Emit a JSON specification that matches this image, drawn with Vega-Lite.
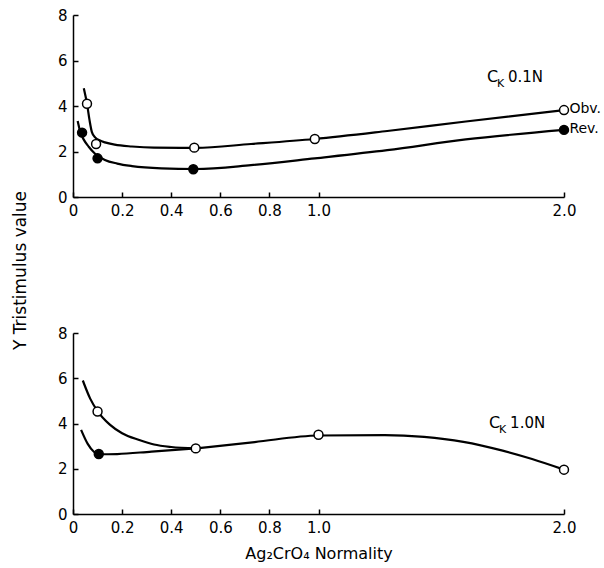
{
  "$schema": "https://vega.github.io/schema/vega-lite/v6.json",
  "background": "white",
  "bounds": "flush",
  "spacing": 136,
  "padding": {"left": 11, "top": 8, "right": 5, "bottom": 5},
  "config": {
    "view": {"stroke": null},
    "font": "DejaVu Sans",
    "axis": {
      "grid": false,
      "domainColor": "black",
      "domainWidth": 1.5,
      "tickColor": "black",
      "tickWidth": 1.5,
      "tickSize": -5,
      "labelPadding": 11,
      "labelColor": "black",
      "labelFont": "DejaVu Sans",
      "labelFontSize": 15,
      "labelOverlap": false,
      "titleColor": "black",
      "titleFont": "DejaVu Sans",
      "titleFontWeight": "normal",
      "titleFontSize": 16
    }
  },
  "datasets": {
    "curves": [
      {"panel": "top", "series": "Obv.", "x": 0.044, "y": 4.78},
      {"panel": "top", "series": "Obv.", "x": 0.057, "y": 4.1},
      {"panel": "top", "series": "Obv.", "x": 0.067, "y": 3.4},
      {"panel": "top", "series": "Obv.", "x": 0.077, "y": 2.85},
      {"panel": "top", "series": "Obv.", "x": 0.09, "y": 2.62},
      {"panel": "top", "series": "Obv.", "x": 0.11, "y": 2.48},
      {"panel": "top", "series": "Obv.", "x": 0.13, "y": 2.4},
      {"panel": "top", "series": "Obv.", "x": 0.17, "y": 2.3},
      {"panel": "top", "series": "Obv.", "x": 0.24, "y": 2.22},
      {"panel": "top", "series": "Obv.", "x": 0.33, "y": 2.17},
      {"panel": "top", "series": "Obv.", "x": 0.5, "y": 2.16},
      {"panel": "top", "series": "Obv.", "x": 0.725, "y": 2.33},
      {"panel": "top", "series": "Obv.", "x": 0.985, "y": 2.55},
      {"panel": "top", "series": "Obv.", "x": 1.28, "y": 2.9},
      {"panel": "top", "series": "Obv.", "x": 1.6, "y": 3.32},
      {"panel": "top", "series": "Obv.", "x": 2.0, "y": 3.82},
      {"panel": "top", "series": "Rev.", "x": 0.019, "y": 3.34},
      {"panel": "top", "series": "Rev.", "x": 0.03, "y": 2.85},
      {"panel": "top", "series": "Rev.", "x": 0.045, "y": 2.5},
      {"panel": "top", "series": "Rev.", "x": 0.064, "y": 2.21},
      {"panel": "top", "series": "Rev.", "x": 0.09, "y": 1.9},
      {"panel": "top", "series": "Rev.", "x": 0.13, "y": 1.63},
      {"panel": "top", "series": "Rev.", "x": 0.18, "y": 1.47},
      {"panel": "top", "series": "Rev.", "x": 0.24, "y": 1.36},
      {"panel": "top", "series": "Rev.", "x": 0.36, "y": 1.26},
      {"panel": "top", "series": "Rev.", "x": 0.5, "y": 1.23},
      {"panel": "top", "series": "Rev.", "x": 0.725, "y": 1.4},
      {"panel": "top", "series": "Rev.", "x": 0.985, "y": 1.7},
      {"panel": "top", "series": "Rev.", "x": 1.28, "y": 2.06},
      {"panel": "top", "series": "Rev.", "x": 1.6, "y": 2.53},
      {"panel": "top", "series": "Rev.", "x": 2.0, "y": 2.95},
      {"panel": "bottom", "series": "Obv.", "x": 0.04, "y": 5.9},
      {"panel": "bottom", "series": "Obv.", "x": 0.07, "y": 5.1},
      {"panel": "bottom", "series": "Obv.", "x": 0.1, "y": 4.55},
      {"panel": "bottom", "series": "Obv.", "x": 0.15, "y": 3.95},
      {"panel": "bottom", "series": "Obv.", "x": 0.2, "y": 3.57},
      {"panel": "bottom", "series": "Obv.", "x": 0.27, "y": 3.27},
      {"panel": "bottom", "series": "Obv.", "x": 0.33, "y": 3.07},
      {"panel": "bottom", "series": "Obv.", "x": 0.4, "y": 2.96},
      {"panel": "bottom", "series": "Obv.", "x": 0.5, "y": 2.9},
      {"panel": "bottom", "series": "Both", "x": 0.5, "y": 2.9},
      {"panel": "bottom", "series": "Both", "x": 0.74, "y": 3.18},
      {"panel": "bottom", "series": "Both", "x": 1.0, "y": 3.47},
      {"panel": "bottom", "series": "Both", "x": 1.27, "y": 3.49},
      {"panel": "bottom", "series": "Both", "x": 1.43, "y": 3.41},
      {"panel": "bottom", "series": "Both", "x": 1.59, "y": 3.19},
      {"panel": "bottom", "series": "Both", "x": 1.75, "y": 2.8},
      {"panel": "bottom", "series": "Both", "x": 1.87, "y": 2.43},
      {"panel": "bottom", "series": "Both", "x": 2.0, "y": 1.96},
      {"panel": "bottom", "series": "Rev.", "x": 0.033, "y": 3.72},
      {"panel": "bottom", "series": "Rev.", "x": 0.06, "y": 3.1},
      {"panel": "bottom", "series": "Rev.", "x": 0.085, "y": 2.75},
      {"panel": "bottom", "series": "Rev.", "x": 0.105, "y": 2.64},
      {"panel": "bottom", "series": "Rev.", "x": 0.18, "y": 2.65},
      {"panel": "bottom", "series": "Rev.", "x": 0.32, "y": 2.76},
      {"panel": "bottom", "series": "Rev.", "x": 0.5, "y": 2.9}
    ],
    "points": [
      {"panel": "top", "series": "Obv.", "x": 0.057, "y": 4.1},
      {"panel": "top", "series": "Obv.", "x": 0.094, "y": 2.33},
      {"panel": "top", "series": "Obv.", "x": 0.494, "y": 2.17},
      {"panel": "top", "series": "Obv.", "x": 0.985, "y": 2.55},
      {"panel": "top", "series": "Obv.", "x": 2.0, "y": 3.82},
      {"panel": "top", "series": "Rev.", "x": 0.037, "y": 2.83},
      {"panel": "top", "series": "Rev.", "x": 0.1, "y": 1.7},
      {"panel": "top", "series": "Rev.", "x": 0.49, "y": 1.22},
      {"panel": "top", "series": "Rev.", "x": 2.0, "y": 2.95},
      {"panel": "bottom", "series": "Obv.", "x": 0.1, "y": 4.53},
      {"panel": "bottom", "series": "Obv.", "x": 0.5, "y": 2.9},
      {"panel": "bottom", "series": "Obv.", "x": 1.0, "y": 3.5},
      {"panel": "bottom", "series": "Obv.", "x": 2.0, "y": 1.96},
      {"panel": "bottom", "series": "Rev.", "x": 0.105, "y": 2.65}
    ]
  },
  "vconcat": [
    {
      "width": 491,
      "height": 182,
      "layer": [
        {
          "data": {"name": "curves"},
          "transform": [{"filter": "datum.panel == 'top'"}],
          "mark": {"type": "line", "interpolate": "monotone", "color": "black", "strokeWidth": 2.2},
          "encoding": {
            "x": {"field": "x", "type": "quantitative", "scale": {"domain": [0, 2]}, "title": null,
                  "axis": {"values": [0, 0.2, 0.4, 0.6, 0.8, 1, 2], "labelExpr": "datum.value == 0 ? '0' : format(datum.value, '.1f')", "labelFlush": false}},
            "y": {"field": "y", "type": "quantitative", "scale": {"domain": [0, 8]}, "title": "Y  Tristimulus  value",
                  "axis": {"values": [0, 2, 4, 6, 8], "labelFlush": false, "titleY": 255, "titlePadding": 28, "titleFontSize": 17}},
            "detail": {"field": "series"}
          }
        },
        {
          "data": {"name": "points"},
          "transform": [{"filter": "datum.panel == 'top'"}],
          "mark": {"type": "point", "shape": "circle", "size": 80, "stroke": "black", "strokeWidth": 1.5, "opacity": 1},
          "encoding": {
            "x": {"field": "x", "type": "quantitative", "title": null},
            "y": {"field": "y", "type": "quantitative", "title": "Y  Tristimulus  value"},
            "fill": {"field": "series", "type": "nominal", "scale": {"domain": ["Obv.", "Rev."], "range": ["white", "black"]}, "legend": null}
          }
        },
        {
          "data": {"values": [{}]},
          "mark": {"type": "text", "text": "C", "align": "left", "baseline": "middle", "fontSize": 16, "color": "black"},
          "encoding": {"x": {"datum": 1.686, "type": "quantitative", "title": null}, "y": {"datum": 5.29, "type": "quantitative", "title": "Y  Tristimulus  value"}}
        },
        {
          "data": {"values": [{}]},
          "mark": {"type": "text", "text": "K", "align": "left", "baseline": "middle", "fontSize": 11, "dx": 10, "dy": 7, "color": "black"},
          "encoding": {"x": {"datum": 1.686, "type": "quantitative", "title": null}, "y": {"datum": 5.29, "type": "quantitative", "title": "Y  Tristimulus  value"}}
        },
        {
          "data": {"values": [{}]},
          "mark": {"type": "text", "text": "0.1N", "align": "left", "baseline": "middle", "fontSize": 15, "dx": 21, "color": "black"},
          "encoding": {"x": {"datum": 1.686, "type": "quantitative", "title": null}, "y": {"datum": 5.29, "type": "quantitative", "title": "Y  Tristimulus  value"}}
        },
        {
          "data": {"values": [{}]},
          "mark": {"type": "text", "text": "Obv.", "align": "left", "baseline": "middle", "fontSize": 14, "color": "black"},
          "encoding": {"x": {"datum": 2.022, "type": "quantitative", "title": null}, "y": {"datum": 3.85, "type": "quantitative", "title": "Y  Tristimulus  value"}}
        },
        {
          "data": {"values": [{}]},
          "mark": {"type": "text", "text": "Rev.", "align": "left", "baseline": "middle", "fontSize": 14, "color": "black"},
          "encoding": {"x": {"datum": 2.022, "type": "quantitative", "title": null}, "y": {"datum": 2.98, "type": "quantitative", "title": "Y  Tristimulus  value"}}
        }
      ]
    },
    {
      "width": 491,
      "height": 181,
      "layer": [
        {
          "data": {"name": "curves"},
          "transform": [{"filter": "datum.panel == 'bottom'"}],
          "mark": {"type": "line", "interpolate": "monotone", "color": "black", "strokeWidth": 2.2},
          "encoding": {
            "x": {"field": "x", "type": "quantitative", "scale": {"domain": [0, 2]}, "title": "Ag₂CrO₄  Normality",
                  "axis": {"values": [0, 0.2, 0.4, 0.6, 0.8, 1, 2], "labelExpr": "datum.value == 0 ? '0' : format(datum.value, '.1f')", "labelFlush": false, "titleFontSize": 16, "titlePadding": 10}},
            "y": {"field": "y", "type": "quantitative", "scale": {"domain": [0, 8]}, "title": null,
                  "axis": {"values": [0, 2, 4, 6, 8], "labelFlush": false}},
            "detail": {"field": "series"}
          }
        },
        {
          "data": {"name": "points"},
          "transform": [{"filter": "datum.panel == 'bottom'"}],
          "mark": {"type": "point", "shape": "circle", "size": 80, "stroke": "black", "strokeWidth": 1.5, "opacity": 1},
          "encoding": {
            "x": {"field": "x", "type": "quantitative", "title": "Ag₂CrO₄  Normality"},
            "y": {"field": "y", "type": "quantitative", "title": null},
            "fill": {"field": "series", "type": "nominal", "scale": {"domain": ["Obv.", "Rev."], "range": ["white", "black"]}, "legend": null}
          }
        },
        {
          "data": {"values": [{}]},
          "mark": {"type": "text", "text": "C", "align": "left", "baseline": "middle", "fontSize": 16, "color": "black"},
          "encoding": {"x": {"datum": 1.695, "type": "quantitative", "title": "Ag₂CrO₄  Normality"}, "y": {"datum": 4.03, "type": "quantitative", "title": null}}
        },
        {
          "data": {"values": [{}]},
          "mark": {"type": "text", "text": "K", "align": "left", "baseline": "middle", "fontSize": 11, "dx": 10, "dy": 7, "color": "black"},
          "encoding": {"x": {"datum": 1.695, "type": "quantitative", "title": "Ag₂CrO₄  Normality"}, "y": {"datum": 4.03, "type": "quantitative", "title": null}}
        },
        {
          "data": {"values": [{}]},
          "mark": {"type": "text", "text": "1.0N", "align": "left", "baseline": "middle", "fontSize": 15, "dx": 21, "color": "black"},
          "encoding": {"x": {"datum": 1.695, "type": "quantitative", "title": "Ag₂CrO₄  Normality"}, "y": {"datum": 4.03, "type": "quantitative", "title": null}}
        }
      ]
    }
  ]
}
